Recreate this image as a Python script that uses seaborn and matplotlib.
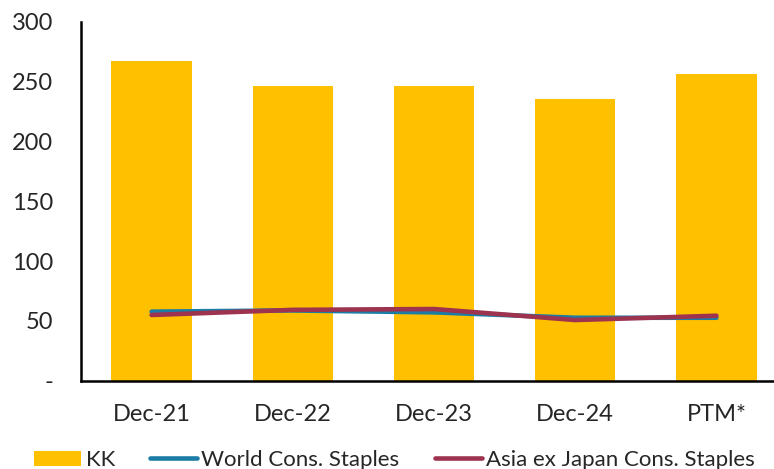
import numpy as np
import pandas as pd
import matplotlib
matplotlib.use("Agg")
import matplotlib.pyplot as plt
import seaborn as sns
from matplotlib.lines import Line2D
from matplotlib.patches import Patch

# Values
periods = ["Dec-21", "Dec-22", "Dec-23", "Dec-24", "PTM*"]
kk = [267, 246, 246, 235, 256]
world_staples = [57.7, 58.7, 57.1, 52.6, 52.6]
asia_staples = [54.9, 59.2, 59.9, 50.7, 54.3]
y_ticks = [0, 50, 100, 150, 200, 250, 300]
y_tick_labels = ["-", "50", "100", "150", "200", "250", "300"]

BAR = "#FFC000"
WORLD = "#1B7DA6"
ASIA = "#9E3350"

sns.set_style("white")
plt.rcParams["font.family"] = ["Lato", "DejaVu Sans"]

fig = plt.figure(figsize=(7.74, 4.69), dpi=100)
ax = fig.add_axes([81 / 774, (469 - 380.7) / 469, (787 - 81) / 774, 359 / 469])

df = pd.DataFrame({"period": periods, "kk": kk})
sns.barplot(data=df, x="period", y="kk", color=BAR, width=0.57,
            saturation=1, ax=ax, edgecolor="none")

pos = np.arange(len(periods))
sns.lineplot(x=pos, y=world_staples, color=WORLD, lw=3.3, ax=ax,
             solid_capstyle="round")
sns.lineplot(x=pos, y=asia_staples, color=ASIA, lw=3.3, ax=ax,
             solid_capstyle="round")

ax.set_ylim(0, 300)
ax.set_xlim(-0.5, len(periods) - 0.5)
ax.set_yticks(y_ticks)
ax.set_yticklabels(y_tick_labels, fontsize=17)

# category boundaries carry the tick marks, labels sit between them
ax.set_xticks(np.arange(-0.5, len(periods), 1.0))
ax.set_xticklabels([])
ax.set_xticks(pos, minor=True)
ax.set_xticklabels(periods, minor=True, fontsize=17)
ax.tick_params(axis="x", which="major", direction="out", length=8, width=1.5,
               color="black")
ax.tick_params(axis="x", which="minor", length=0, pad=17)
ax.tick_params(axis="y", direction="out", length=8, width=1.5, color="black",
               pad=12)

ax.set_xlabel("")
ax.set_ylabel("")
for side in ["top", "right"]:
    ax.spines[side].set_visible(False)
for side in ["left", "bottom"]:
    ax.spines[side].set_color("black")
    ax.spines[side].set_linewidth(1.8)
ax.grid(False)

handles = [
    Patch(facecolor=BAR, edgecolor="none"),
    Line2D([], [], color=WORLD, lw=3.3),
    Line2D([], [], color=ASIA, lw=3.3),
]
labels = ["KK", "World Cons. Staples", "Asia ex Japan Cons. Staples"]
fig.legend(handles, labels, loc="lower center", bbox_to_anchor=(0.51, -0.045),
           ncol=3, frameon=False, fontsize=16, handlelength=2.1,
           handleheight=0.65, handletextpad=0.2, columnspacing=1.6)

fig.savefig("out.png", dpi=100)
